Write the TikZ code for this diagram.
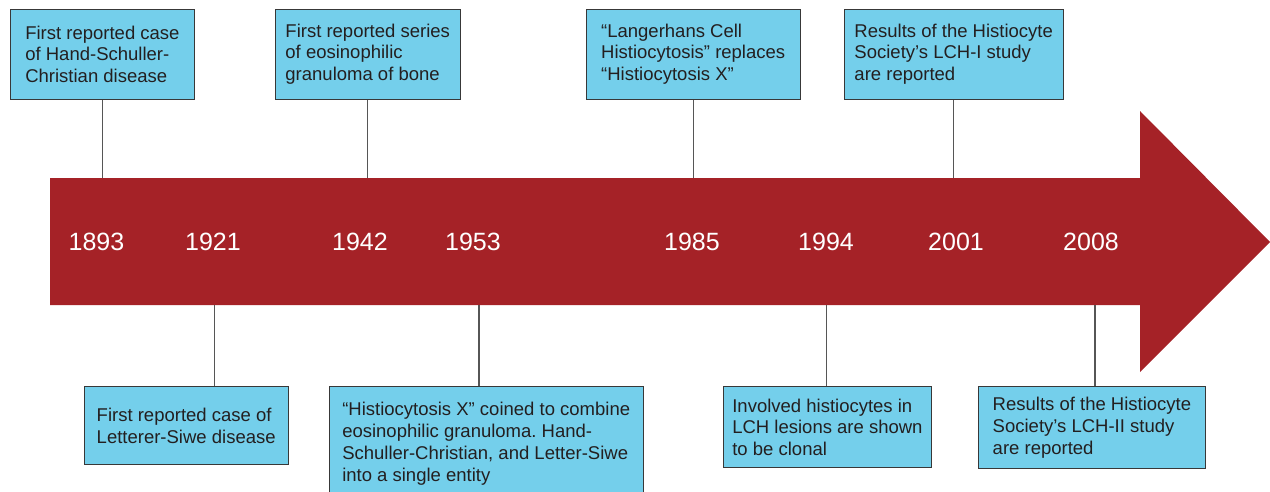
\documentclass[tikz,border=0pt]{standalone}
\usepackage{fontspec}
\setmainfont{Liberation Sans}
\definecolor{barred}{HTML}{A52227}
\definecolor{boxblue}{HTML}{74CFEB}
\definecolor{boxline}{HTML}{383838}
\definecolor{textgray}{HTML}{231F20}
\frenchspacing

\begin{document}
\begin{tikzpicture}[x=1pt,y=-1pt,
  event/.style={draw=boxline,line width=1.4pt,fill=boxblue,text=textgray,align=left,
    anchor=north west,inner sep=0pt,font=\fontsize{18.5}{21.8}\selectfont},
  year/.style={text=white,font=\fontsize{25}{30}\selectfont},
  tick/.style={draw=boxline!85,line width=1.2pt}]
\useasboundingbox (0,0) rectangle (1270,491);
\fill[barred] (50,178) -- (1140,178) -- (1140,111) -- (1270,242) -- (1140,372)
  -- (1140,305) -- (50,305) -- cycle;
\coordinate (shafttop) at (0,178);
\coordinate (t1921) at (214.7,305);
\coordinate (t1953) at (479,305);
\coordinate (t1994) at (826.7,305);
\coordinate (t2008) at (1095,305);
\node[year] (y1893) at (96.5,242) {1893};
\node[year] (y1921) at (213,242) {1921};
\node[year] (y1942) at (360,242) {1942};
\node[year] (y1953) at (473,242) {1953};
\node[year] (y1985) at (692,242) {1985};
\node[year] (y1994) at (826,242) {1994};
\node[year] (y2001) at (956,242) {2001};
\node[year] (y2008) at (1091,242) {2008};
\node[event,minimum width=184.5,minimum height=90] (ev1893) at (9.5,8.5)
  {First reported case\\of Hand-Schuller-\\Christian disease};
\node[event,minimum width=185,minimum height=90] (ev1942) at (274.5,8.5)
  {First reported series\\of eosinophilic\\granuloma of bone};
\node[event,minimum width=214,minimum height=90] (ev1985) at (585.5,8.5)
  {“Langerhans Cell\\Histiocytosis” replaces\\“Histiocytosis X”};
\node[event,minimum width=219,minimum height=90] (ev2001) at (843.5,8.5)
  {Results of the Histiocyte\\Society’s LCH-I study\\are reported};
\node[event,minimum width=204,minimum height=78] (ev1921) at (83.5,386)
  {First reported case of\\Letterer-Siwe disease};
\node[event,minimum width=314,minimum height=114] (ev1953) at (328.5,386)
  {“Histiocytosis X” coined to combine\\eosinophilic granuloma. Hand-\\Schuller-Christian, and Letter-Siwe\\into a single entity};
\node[event,minimum width=208.5,minimum height=81] (ev1994) at (722.5,386)
  {Involved histiocytes in\\LCH lesions are shown\\to be clonal};
\node[event,minimum width=227.5,minimum height=81.5] (ev2008) at (977.5,386)
  {Results of the Histiocyte\\Society’s LCH-II study\\are reported};
\draw[tick] (ev1893.south) -- (ev1893.south |- shafttop);
\draw[tick] (ev1942.south) -- (ev1942.south |- shafttop);
\draw[tick] (ev1985.south) -- (ev1985.south |- shafttop);
\draw[tick] (ev2001.south) -- (ev2001.south |- shafttop);
\draw[tick] (t1921) -- (t1921 |- ev1921.north);
\draw[tick] (t1953) -- (t1953 |- ev1953.north);
\draw[tick] (t1994) -- (t1994 |- ev1994.north);
\draw[tick] (t2008) -- (t2008 |- ev2008.north);
\end{tikzpicture}
\end{document}
